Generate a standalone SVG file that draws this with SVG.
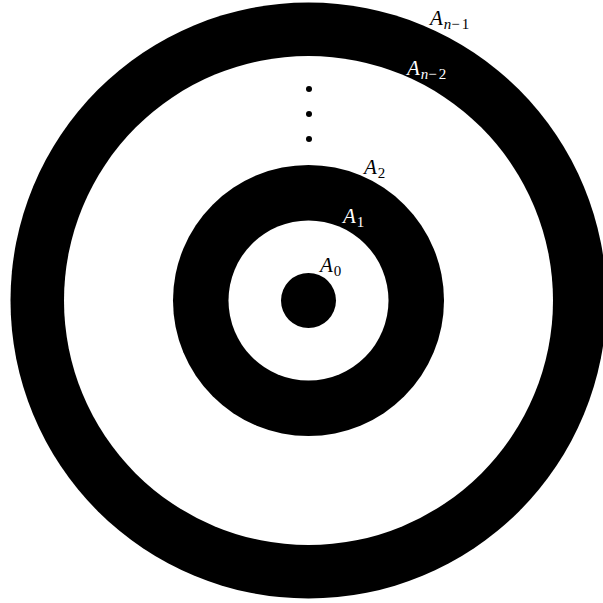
<svg xmlns="http://www.w3.org/2000/svg" width="603" height="603" viewBox="0 0 603 603">
<style>
.lbl{font-family:"Liberation Serif","DejaVu Serif",serif;font-style:italic;font-size:21px}
.sub{font-size:15px}
.subu{font-size:15px;font-style:normal}
.w{fill:#fff}
.b{fill:#000}
</style>
<rect width="603" height="603" fill="#fff"/>
<g id="ring-outer">
<circle cx="308.5" cy="300.5" r="298" fill="#000"/>
<circle cx="308.5" cy="300.5" r="244.5" fill="#fff"/>
</g>
<g id="ring-mid">
<circle cx="308.5" cy="300.5" r="135.5" fill="#000"/>
<circle cx="308.5" cy="300.5" r="80" fill="#fff"/>
</g>
<g id="core">
<circle cx="308.5" cy="300.5" r="27.5" fill="#000"/>
</g>
<g id="dots" fill="#000">
<circle cx="309" cy="89" r="3"/>
<circle cx="309" cy="114" r="3"/>
<circle cx="309" cy="139" r="3"/>
</g>
<g id="labels">
<text class="lbl b" x="430" y="25">A<tspan class="sub" dy="4" dx="1">n</tspan><tspan class="subu" letter-spacing="2">−1</tspan></text>
<text class="lbl w" x="407" y="75">A<tspan class="sub" dy="4" dx="1">n</tspan><tspan class="subu" letter-spacing="2">−2</tspan></text>
<text class="lbl b" x="364" y="174">A<tspan class="subu" dy="4" dx="1">2</tspan></text>
<text class="lbl w" x="343" y="223">A<tspan class="subu" dy="4" dx="1">1</tspan></text>
<text class="lbl b" x="320" y="272">A<tspan class="subu" dy="4" dx="1">0</tspan></text>
</g>
</svg>
